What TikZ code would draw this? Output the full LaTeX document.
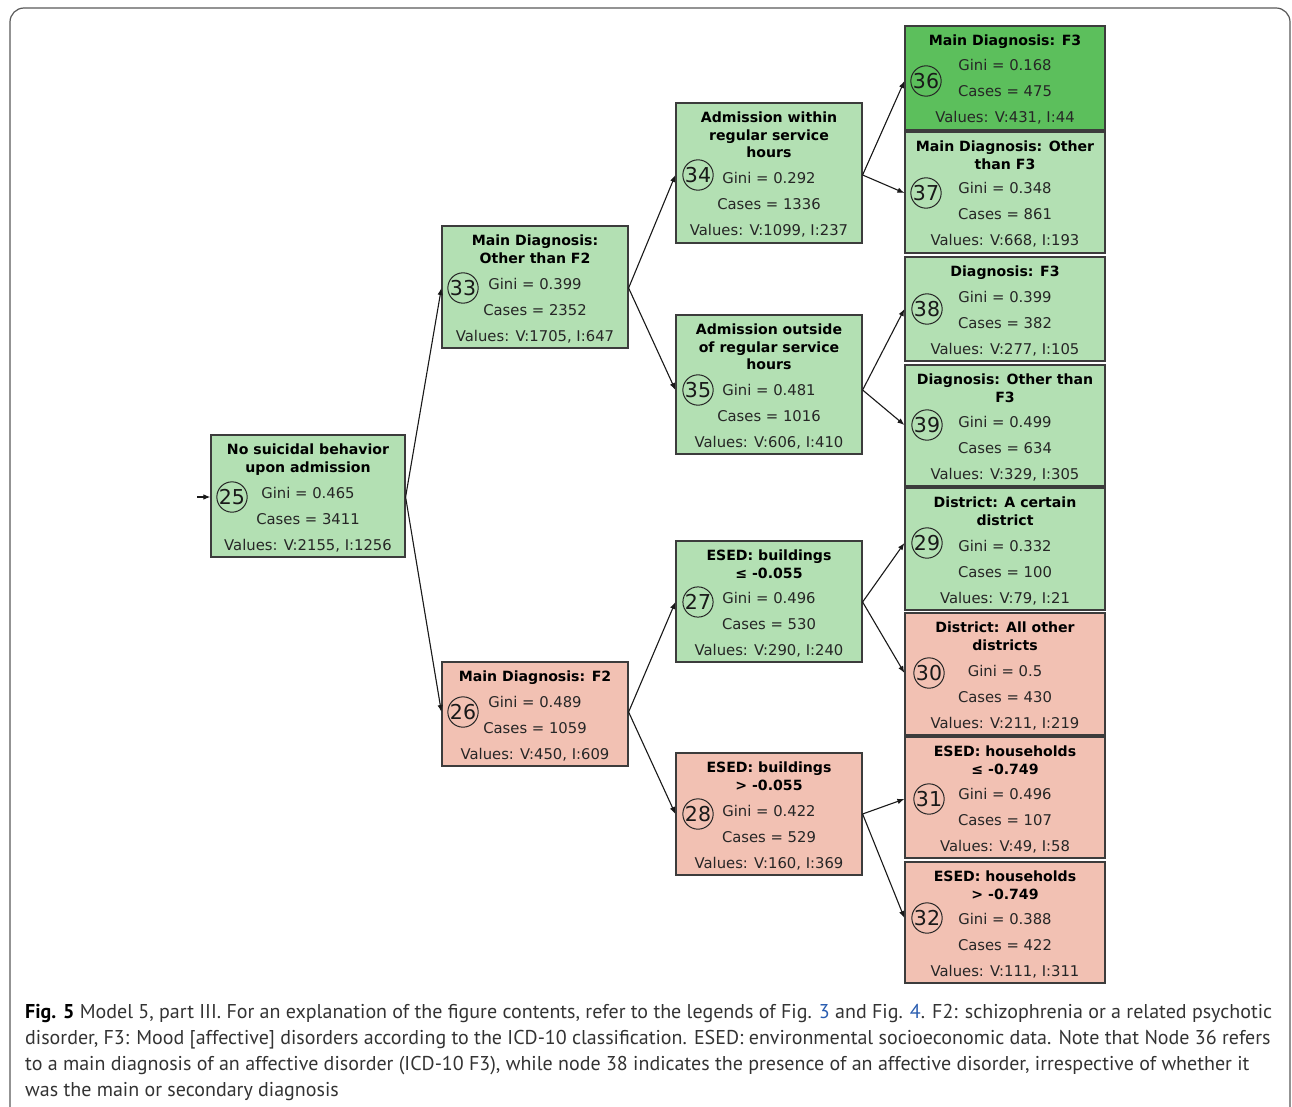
\documentclass[tikz,border=0pt]{standalone}
\usepackage{fontspec}
\setmainfont{DejaVu Sans}
\newfontfamily\capfont{PT Sans}
\usetikzlibrary{arrows.meta,calc,fit}
\definecolor{lg}{HTML}{B3E0B3}
\definecolor{dg}{HTML}{5CBF5C}
\definecolor{pk}{HTML}{F2C1B3}
\definecolor{bd}{HTML}{3C3C3C}
\definecolor{lnk}{HTML}{2A5DB0}
\definecolor{captxt}{HTML}{333333}
\tikzset{
  tbox/.style={draw=bd,line width=1.2pt,inner sep=0pt},
  ttl/.style={font=\fontsize{14.1}{17.5}\selectfont\bfseries,align=center,anchor=north,inner sep=0pt,text=black},
  txt/.style={font=\fontsize{14.8}{17}\selectfont,anchor=base,inner sep=0pt,text=black!85},
  numc/.style={circle,draw=black!85,line width=1pt,minimum size=30pt,inner sep=0pt,font=\fontsize{20.5}{24}\selectfont,text=black!90},
  arr/.style={draw=black!90,line width=1.1pt,-{Latex[length=7pt,width=5.5pt]}},
  captext/.style={font=\capfont\fontsize{20.0}{26}\selectfont,anchor=base west,inner sep=0pt,text=captxt}
}
\newcommand{\tn}[8]{%
  \coordinate (#1a) at (#3); \coordinate (#1b) at (#4);
  \node[tbox,fill=#2,fit=(#1a)(#1b)] (#1) {};
  \node[ttl] (#1t) at ($(#1.north)+(0,9.3)$) {#5};
  \node[txt] (#1g) at ($(#1.south)+(0,-59.6)$) {Gini = #6};
  \node[txt] (#1c) at ($(#1.south)+(0,-33.6)$) {Cases = #7};
  \node[txt] (#1v) at ($(#1.south)+(0,-7.6)$) {Values: #8};
}
\begin{document}
\begin{tikzpicture}[x=1pt,y=-1pt]
\useasboundingbox (0,0) rectangle (1292,1107);
\begin{scope}
  \clip (0,0) rectangle (1292,1107);
  \draw[rounded corners=14pt,line width=1.2pt,color=black!65] (10,1140) -- (10,8) -- (1290,8) -- (1290,1140);
\end{scope}

% level 0
\tn{b25}{lg}{211,435}{405,557}{No suicidal behavior\\upon admission}{0.465}{3411}{V:2155, I:1256}
% level 1
\tn{b33}{lg}{442,226}{628,348}{Main Diagnosis:\\Other than F2}{0.399}{2352}{V:1705, I:647}
\tn{b26}{pk}{442,662}{628,766}{Main Diagnosis: F2}{0.489}{1059}{V:450, I:609}
% level 2
\tn{b34}{lg}{676,103}{862,243}{Admission within\\regular service\\hours}{0.292}{1336}{V:1099, I:237}
\tn{b35}{lg}{676,315}{862,454}{Admission outside\\of regular service\\hours}{0.481}{1016}{V:606, I:410}
\tn{b27}{lg}{676,541}{862,662}{ESED: buildings\\≤ -0.055}{0.496}{530}{V:290, I:240}
\tn{b28}{pk}{676,753}{862,875}{ESED: buildings\\> -0.055}{0.422}{529}{V:160, I:369}
% level 3
\tn{b36}{dg}{905,26}{1105,130}{Main Diagnosis: F3}{0.168}{475}{V:431, I:44}
\tn{b37}{lg}{905,132}{1105,253}{Main Diagnosis: Other\\than F3}{0.348}{861}{V:668, I:193}
\tn{b38}{lg}{905,257}{1105,361}{Diagnosis: F3}{0.399}{382}{V:277, I:105}
\tn{b39}{lg}{905,365}{1105,486}{Diagnosis: Other than\\F3}{0.499}{634}{V:329, I:305}
\tn{b29}{lg}{905,488}{1105,610}{District: A certain\\district}{0.332}{100}{V:79, I:21}
\tn{b30}{pk}{905,613}{1105,735}{District: All other\\districts}{0.5}{430}{V:211, I:219}
\tn{b31}{pk}{905,737}{1105,858}{ESED: households\\≤ -0.749}{0.496}{107}{V:49, I:58}
\tn{b32}{pk}{905,862}{1105,983}{ESED: households\\> -0.749}{0.388}{422}{V:111, I:311}

% circles
\node[numc] (c25) at (232,497) {25};
\node[numc] (c33) at (463,288) {33};
\node[numc] (c26) at (463,712) {26};
\node[numc] (c34) at (698,175) {34};
\node[numc] (c35) at (698,390) {35};
\node[numc] (c27) at (698,602) {27};
\node[numc] (c28) at (698,814) {28};
\node[numc] (c36) at (926,81) {36};
\node[numc] (c37) at (926,193) {37};
\node[numc] (c38) at (927,309) {38};
\node[numc] (c39) at (927,425) {39};
\node[numc] (c29) at (927,543) {29};
\node[numc] (c30) at (929,673) {30};
\node[numc] (c31) at (929,799) {31};
\node[numc] (c32) at (927,918) {32};

% edges
\coordinate (in) at (197,497);
\draw[arr] (in) -- (b25.west |- c25);
\draw[arr] (b25.east |- c25) -- (b33.west |- c33);
\draw[arr] (b25.east |- c25) -- (b26.west |- c26);
\draw[arr] (b33.east |- c33) -- (b34.west |- c34);
\draw[arr] (b33.east |- c33) -- (b35.west |- c35);
\draw[arr] (b26.east |- c26) -- (b27.west |- c27);
\draw[arr] (b26.east |- c26) -- (b28.west |- c28);
\draw[arr] (b34.east |- c34) -- (b36.west |- c36);
\draw[arr] (b34.east |- c34) -- (b37.west |- c37);
\draw[arr] (b35.east |- c35) -- (b38.west |- c38);
\draw[arr] (b35.east |- c35) -- (b39.west |- c39);
\draw[arr] (b27.east |- c27) -- (b29.west |- c29);
\draw[arr] (b27.east |- c27) -- (b30.west |- c30);
\draw[arr] (b28.east |- c28) -- (b31.west |- c31);
\draw[arr] (b28.east |- c28) -- (b32.west |- c32);

% caption
\node[captext] (cap1) at (25,1018) {{\bfseries\color{black}Fig. 5} Model 5, part III. For an explanation of the figure contents, refer to the legends of Fig. {\color{lnk}3} and Fig. {\color{lnk}4}. F2: schizophrenia or a related psychotic};
\node[captext] (cap2) at (25,1044) {disorder, F3: Mood [affective] disorders according to the ICD-10 classification. ESED: environmental socioeconomic data. Note that Node 36 refers};
\node[captext] (cap3) at (25,1070) {to a main diagnosis of an affective disorder (ICD-10 F3), while node 38 indicates the presence of an affective disorder, irrespective of whether it};
\node[captext] (cap4) at (25,1096) {was the main or secondary diagnosis};
\end{tikzpicture}
\end{document}
